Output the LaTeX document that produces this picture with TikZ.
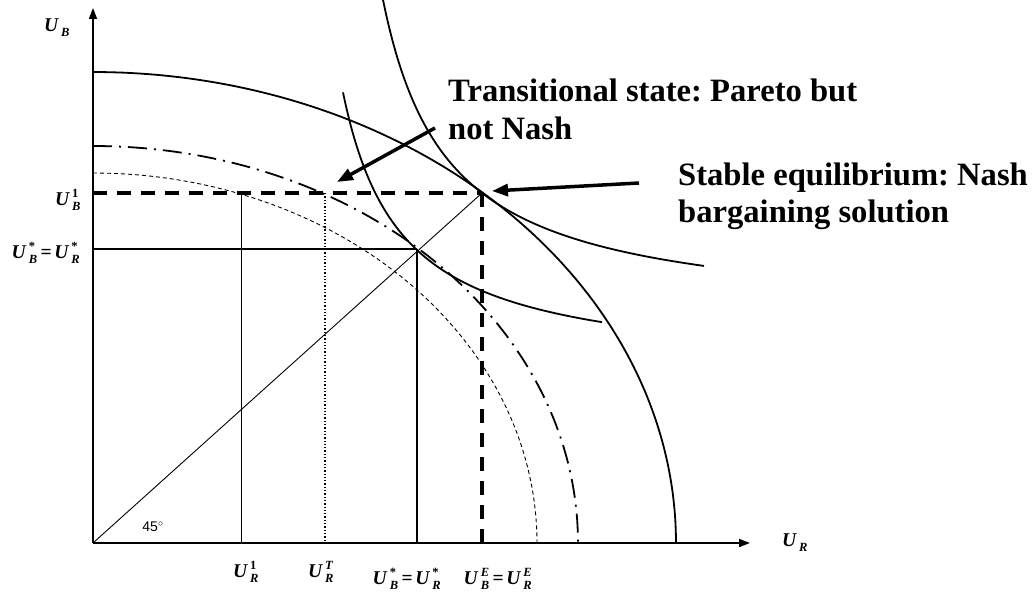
\documentclass[tikz,border=0pt]{standalone}
\usepackage{fontspec}
\setmainfont{Liberation Serif}
\newfontfamily\arialf{Liberation Sans}
\usetikzlibrary{arrows.meta}
\frenchspacing
\newcommand{\UL}[2]{\textbf{\textit{U}}\kern2.2pt$^{\hbox{\fontsize{12.5}{12.5}\selectfont\bfseries #2}}_{\hbox{\fontsize{12.5}{12.5}\selectfont\bfseries\itshape #1}}$}
\newcommand{\EQ}{\kern3pt=\kern2.5pt}
\begin{document}
\begin{tikzpicture}[x=1pt,y=-1pt,
  axisline/.style={line width=1.6pt,-{Triangle[length=11pt,width=8pt]}},
  curve/.style={line width=1.8pt},
  thinline/.style={line width=0.9pt},
  thickdash/.style={line width=3.6pt,dash pattern=on 14pt off 10pt},
  dashdotline/.style={line width=1.8pt,dash pattern=on 19pt off 7pt on 2pt off 7pt},
  shortdash/.style={line width=0.9pt,dash pattern=on 4pt off 3pt},
  dotline/.style={line width=1.3pt,dash pattern=on 1.3pt off 2pt},
  bigarrow/.style={line width=3.5pt,-{Triangle[length=16pt,width=12pt]}},
  lab/.style={font=\fontsize{19.5}{19.5}\selectfont\bfseries, inner sep=0pt},
  callout/.style={font=\fontsize{32.6}{37}\selectfont\bfseries, inner sep=0pt, anchor=base west}]
\useasboundingbox (0,0) rectangle (1034,594);
% key points
\coordinate (O) at (93,543);
\coordinate (Ytop) at (93,8);
\coordinate (Xend) at (750,543);
\coordinate (N) at (482,193);
\coordinate (S) at (417,249);
\coordinate (T) at (325,193);
\coordinate (R1) at (241,193);
\coordinate (NB) at (93,193);
\coordinate (Nx) at (482,543);
\coordinate (Sy) at (93,249);
\coordinate (Sx) at (417,543);
\coordinate (Tx) at (325,543);
\coordinate (R1x) at (241,543);
% reference lines
\draw[thinline] (O) -- (N);
\draw[thinline] (R1) -- (R1x);
\draw[dotline] (T) -- (Tx);
\draw[line width=1.6pt] (Sy) -- (S);
\draw[line width=2.2pt] (S) -- (Sx);
\draw[thickdash] (NB) -- (N);
\draw[thickdash] (N) -- (Nx);
% frontiers
\draw[curve] plot[domain=0:90,samples=120,smooth] ({93+583*cos(\x)},{543-471*sin(\x)});
\draw[dashdotline] plot[domain=90:0,samples=120,smooth] ({93+485*cos(\x)},{543-397*sin(\x)});
\draw[shortdash] plot[domain=90:0,samples=120,smooth] ({93+444*cos(\x)},{543-370*sin(\x)});
% indifference curves
\draw[curve] plot[domain=383:704,samples=150,smooth] (\x,{319.8-208/((\x-318)/100)});
\draw[curve] plot[domain=343:602,samples=150,smooth] (\x,{373.6-163.1/((\x-285)/100)});
% axes
\draw[axisline] (O) -- (Ytop);
\draw[axisline] (O) -- (Xend);
% labels
\node[lab] (lUB) at (57,28) {\UL{B}{}};
\node[lab] (lUB1) at (68,200) {\UL{B}{1}};
\node[lab] (lSy) at (46,253) {\UL{B}{*}\EQ\UL{R}{*}};
\node[lab] (lUR1) at (246,572) {\UL{R}{1}};
\node[lab] (lURT) at (321,572) {\UL{R}{\textit{T}}};
\node[lab] (lSx) at (407,579) {\UL{B}{*}\EQ\UL{R}{*}};
\node[lab] (lE) at (498,579) {\UL{B}{\textit{E}}\EQ\UL{R}{\textit{E}}};
\node[lab] (lUR) at (795,543) {\UL{R}{}};
\node[inner sep=0pt,font=\fontsize{14}{14}\selectfont\arialf] (l45) at (153,527) {45$^{\circ}$};
% callouts
\node[callout] (ts1) at (448,101.7) {Transitional state: Pareto but};
\node[callout] (ts2) at (448,139.3) {not Nash};
\node[callout] (se1) at (678,185) {Stable equilibrium: Nash};
\node[callout] (se2) at (678,222) {bargaining solution};
\coordinate (a1s) at (435,128);
\coordinate (a1e) at (337,182);
\coordinate (a2s) at (639,183);
\coordinate (a2e) at (492,191);
\draw[bigarrow] (a1s) -- (a1e);
\draw[bigarrow] (a2s) -- (a2e);
\end{tikzpicture}
\end{document}
